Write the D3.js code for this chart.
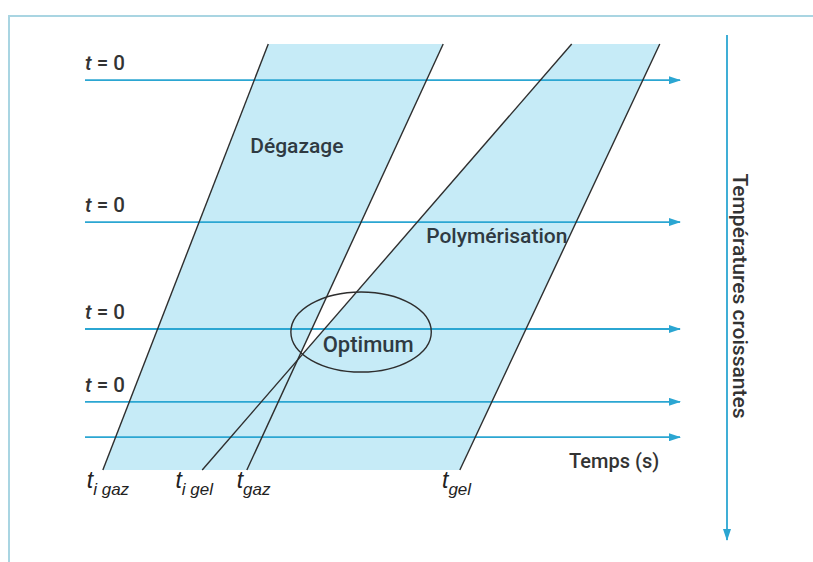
<!DOCTYPE html>
<html><head><meta charset="utf-8">
<script src="https://cdn.jsdelivr.net/npm/d3@7"></script>
<style>body{margin:0;background:#fff}svg{display:block}</style>
</head><body><svg id="c" width="813" height="562"></svg>
<script>
// ---- data (time units on x, temperature level on y: top = lowest) ----
const lineNames      = ["t_i_gaz", "t_gaz", "t_i_gel", "t_gel"];
const lineTopTime    = [30.8, 60.2, 81.8, 96.6];
const lineBottomTime = [3.0, 27.2, 19.7, 63.0];
const zoneNames      = ["Dégazage", "Polymérisation"];
const zoneLines      = [[0, 1], [2, 3]];
const arrowLevels    = [8.5, 41.8, 66.9, 84.0, 92.3];
const arrowLabels    = ["t = 0", "t = 0", "t = 0", "t = 0", ""];
const bottomMain     = ["t", "t", "t", "t"];
const bottomSub      = ["i gaz", "gaz", "i gel", "gel"];
const optimum        = {time: 46.4, level: 67.6, rTime: 11.8, rLevel: 9.4, label: "Optimum"};
const timeLabel      = "Temps (s)";
const tempLabel      = "Températures croissantes";

// ---- scales ----
const W = 813, H = 562;
const x = d3.scaleLinear().domain([0, 100]).range([85, 680]);
const y = d3.scaleLinear().domain([0, 100]).range([44, 470]);

const svg = d3.select("#c");
svg.append("rect").attr("width", W).attr("height", H).attr("fill", "#fff");

// frame
svg.append("path").attr("d", `M9,${H} V16 H${W}`).attr("fill", "none")
  .attr("stroke", "#a9d5e2").attr("stroke-width", 2);

const FILL = "#c6ebf7", BLUE = "#2ba6d2", INK = "#2e2e2e", TXT = "#2f3a42";
const FONT = "Roboto, 'Liberation Sans', Arial, sans-serif";
const IFONT = "'Liberation Sans', Arial, sans-serif";

// zones
zoneLines.forEach(([a, b]) => {
  const pts = [
    [x(lineTopTime[a]), y(0)], [x(lineTopTime[b]), y(0)],
    [x(lineBottomTime[b]), y(100)], [x(lineBottomTime[a]), y(100)]
  ];
  svg.append("polygon").attr("points", pts.map(p => p.join(",")).join(" "))
    .attr("fill", FILL);
});

// horizontal arrows
const defs = svg.append("defs");
defs.append("marker").attr("id", "ah").attr("viewBox", "0 0 12 8")
  .attr("refX", 11).attr("refY", 4).attr("markerWidth", 12).attr("markerHeight", 8)
  .attr("markerUnits", "userSpaceOnUse").attr("orient", "auto")
  .append("path").attr("d", "M0,0 L12,4 L0,8 Z").attr("fill", BLUE);

svg.selectAll("line.arr").data(arrowLevels).join("line").attr("class", "arr")
  .attr("x1", x(0)).attr("x2", x(100))
  .attr("y1", d => y(d)).attr("y2", d => y(d))
  .attr("stroke", BLUE).attr("stroke-width", 1.8).attr("marker-end", "url(#ah)");

// black lines
svg.selectAll("line.bl").data(lineNames).join("line").attr("class", "bl")
  .attr("x1", (d, i) => x(lineTopTime[i])).attr("y1", y(0))
  .attr("x2", (d, i) => x(lineBottomTime[i])).attr("y2", y(100))
  .attr("stroke", INK).attr("stroke-width", 1.4);

// t = 0 labels
arrowLabels.forEach((lab, i) => {
  if (!lab) return;
  const t = svg.append("text").attr("x", x(0)).attr("y", y(arrowLevels[i]) - 10)
    .attr("font-family", FONT).attr("font-size", 20.5).attr("font-weight", 500)
    .attr("fill", "#333");
  t.append("tspan").attr("font-style", "italic").text(lab.slice(0, 1));
  t.append("tspan").text(lab.slice(1));
});

// zone labels
svg.append("text").attr("x", x(35.6)).attr("y", y(25.6)).text(zoneNames[0])
  .attr("font-family", FONT).attr("font-size", 21).attr("font-weight", 500)
  .attr("fill", TXT).attr("text-anchor", "middle");
svg.append("text").attr("x", x(69.2)).attr("y", y(46.8)).text(zoneNames[1])
  .attr("font-family", FONT).attr("font-size", 21).attr("font-weight", 500)
  .attr("fill", TXT).attr("text-anchor", "middle");

// optimum ellipse
svg.append("ellipse").attr("cx", x(optimum.time)).attr("cy", y(optimum.level))
  .attr("rx", x(optimum.rTime) - x(0)).attr("ry", y(optimum.rLevel) - y(0))
  .attr("fill", "none").attr("stroke", INK).attr("stroke-width", 1.4);
svg.append("text").attr("x", x(optimum.time + 1.2)).attr("y", y(optimum.level) + 20)
  .text(optimum.label).attr("font-family", FONT).attr("font-size", 22)
  .attr("font-weight", 500).attr("fill", TXT).attr("text-anchor", "middle");

// time label
svg.append("text").attr("x", x(96.5)).attr("y", y(100) - 2).text(timeLabel)
  .attr("font-family", FONT).attr("font-size", 20).attr("font-weight", 500)
  .attr("fill", "#333").attr("text-anchor", "end");

// bottom labels
const labelOffset = [-2.7, -1.7, -4.5, -3.0];
lineNames.forEach((n, i) => {
  const t = svg.append("text").attr("x", x(lineBottomTime[i] + labelOffset[i]))
    .attr("y", y(100) + 18).attr("font-family", IFONT).attr("font-style", "italic")
    .attr("fill", "#222");
  t.append("tspan").attr("font-size", 23).text(bottomMain[i]);
  t.append("tspan").attr("font-size", 17).attr("dy", 7).text(bottomSub[i]);
});

// vertical temperature arrow
const vx = 727;
defs.append("marker").attr("id", "ahv").attr("viewBox", "0 0 8 12")
  .attr("refX", 4).attr("refY", 11).attr("markerWidth", 8).attr("markerHeight", 12)
  .attr("markerUnits", "userSpaceOnUse").attr("orient", "0")
  .append("path").attr("d", "M0,0 L8,0 L4,12 Z").attr("fill", BLUE);
svg.append("line").attr("x1", vx).attr("x2", vx).attr("y1", 35).attr("y2", 540)
  .attr("stroke", BLUE).attr("stroke-width", 1.8).attr("marker-end", "url(#ahv)");
svg.append("text").attr("transform", `translate(${vx + 6},296) rotate(90)`)
  .attr("text-anchor", "middle").text(tempLabel)
  .attr("font-family", FONT).attr("font-size", 21).attr("font-weight", 500)
  .attr("fill", "#333");
</script></body></html>
